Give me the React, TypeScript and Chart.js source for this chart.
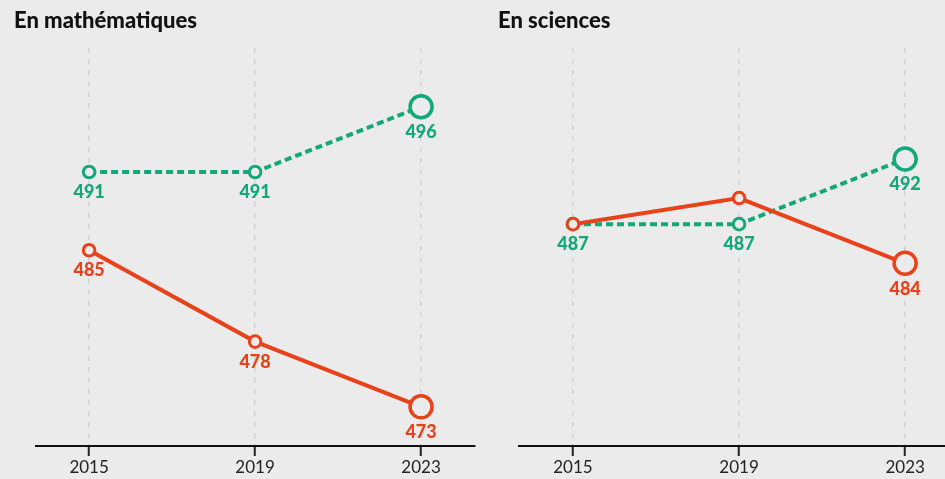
import React, { useEffect, useRef } from "react";
import { Chart, registerables } from "chart.js";

Chart.register(...registerables);

// ---- Data ----
const years = [2015, 2019, 2023];
const mathsRed = [485, 478, 473];
const mathsGreen = [491, 491, 496];
const sciencesRed = [487, 489, 484];
const sciencesGreen = [487, 487, 492];
const mathsRedLabels = [true, true, true];
const mathsGreenLabels = [true, true, true];
const sciencesRedLabels = [false, false, true];
const sciencesGreenLabels = [true, true, true];
const titles = ["En mathématiques", "En sciences"];

const yMin = 470;
const yMax = 500.5;

const RED = "#e8421b";
const GREEN = "#12a878";
const BG = "#ebebeb";
const FONT = "Lato, 'Noto Sans', sans-serif";

const pointLabelPlugin = {
  id: "pointLabels",
  afterDatasetsDraw(chart: any) {
    const ctx = chart.ctx;
    chart.data.datasets.forEach((ds: any, di: number) => {
      const meta = chart.getDatasetMeta(di);
      meta.data.forEach((pt: any, i: number) => {
        if (!ds.labelFlags || !ds.labelFlags[i]) return;
        const r = Array.isArray(ds.pointRadius) ? ds.pointRadius[i] : ds.pointRadius;
        ctx.save();
        ctx.font = `900 18px ${FONT}`;
        ctx.fillStyle = ds.borderColor;
        ctx.textAlign = "center";
        ctx.textBaseline = "middle";
        ctx.fillText(String(ds.data[i].y), pt.x, pt.y + r + 14.5);
        ctx.restore();
      });
    });
  },
};

type PanelProps = {
  title: string;
  red: number[];
  green: number[];
  redLabels: boolean[];
  greenLabels: boolean[];
  left: number;
  width: number;
  padLeft: number;
  padRight: number;
  xMin: number;
  xMax: number;
  titleLeft: number;
};

function Panel(p: PanelProps) {
  const ref = useRef<HTMLCanvasElement | null>(null);
  useEffect(() => {
    if (!ref.current) return;
    const radii = [5.8, 5.8, 11];
    const chart = new Chart(ref.current, {
      type: "line",
      data: {
        datasets: [
          {
            data: p.red.map((v, i) => ({ x: years[i], y: v })),
            borderColor: RED,
            borderWidth: 4,
            pointRadius: radii,
            pointBorderWidth: [3, 3, 3.5],
            pointBackgroundColor: BG,
            pointBorderColor: RED,
            clip: false,
            labelFlags: p.redLabels,
          } as any,
          {
            data: p.green.map((v, i) => ({ x: years[i], y: v })),
            borderColor: GREEN,
            borderWidth: 4,
            borderDash: [7, 4],
            pointRadius: radii,
            pointBorderWidth: [3, 3, 3.5],
            pointBackgroundColor: BG,
            pointBorderColor: GREEN,
            clip: false,
            labelFlags: p.greenLabels,
          } as any,
        ],
      },
      options: {
        animation: false,
        responsive: false,
        devicePixelRatio: 1,
        events: [],
        layout: {
          autoPadding: false,
          padding: { left: p.padLeft, right: p.padRight, top: 48, bottom: 0 },
        },
        plugins: { legend: { display: false }, tooltip: { enabled: false } },
        scales: {
          x: {
            type: "linear",
            min: p.xMin,
            max: p.xMax,
            afterBuildTicks: (scale: any) => {
              scale.ticks = years.map((v) => ({ value: v }));
            },
            afterFit: (scale: any) => {
              scale.height = 33;
              scale.paddingLeft = 0;
              scale.paddingRight = 0;
            },
            ticks: {
              callback: (v: any) => String(v),
              color: "#222",
              font: { family: FONT, size: 17 },
              padding: 1,
              maxRotation: 0,
              autoSkip: false,
            },
            grid: {
              color: "#d2d2d2",
              lineWidth: 1.5,
              drawTicks: true,
              tickLength: 10,
              tickColor: "#222",
              tickWidth: 2,
            },
            border: { display: true, color: "#111", width: 2, dash: [5, 6] },
          },
          y: {
            type: "linear",
            display: false,
            min: yMin,
            max: yMax,
          },
        },
      } as any,
      plugins: [pointLabelPlugin],
    });
    return () => chart.destroy();
  }, []);

  return (
    <div style={{ position: "absolute", left: p.left, top: 0, width: p.width, height: 479 }}>
      <canvas ref={ref} width={p.width} height={479} style={{ display: "block" }} />
      <div
        style={{
          position: "absolute",
          left: p.titleLeft,
          top: 7,
          fontFamily: FONT,
          fontWeight: 900,
          fontSize: 22,
          lineHeight: "26px",
          color: "#111",
          whiteSpace: "nowrap",
        }}
      >
        {p.title}
      </div>
    </div>
  );
}

export default function App() {
  return (
    <div
      style={{
        position: "fixed",
        left: 0,
        top: 0,
        width: 945,
        height: 479,
        background: BG,
        overflow: "hidden",
      }}
    >
      <Panel
        title={titles[0]}
        red={mathsRed}
        green={mathsGreen}
        redLabels={mathsRedLabels}
        greenLabels={mathsGreenLabels}
        left={0}
        width={480}
        padLeft={36}
        padRight={5}
        xMin={2013.72}
        xMax={2024.3}
        titleLeft={14}
      />
      <Panel
        title={titles[1]}
        red={sciencesRed}
        green={sciencesGreen}
        redLabels={sciencesRedLabels}
        greenLabels={sciencesGreenLabels}
        left={480}
        width={465}
        padLeft={39}
        padRight={0}
        xMin={2013.7}
        xMax={2023.96}
        titleLeft={18}
      />
    </div>
  );
}
